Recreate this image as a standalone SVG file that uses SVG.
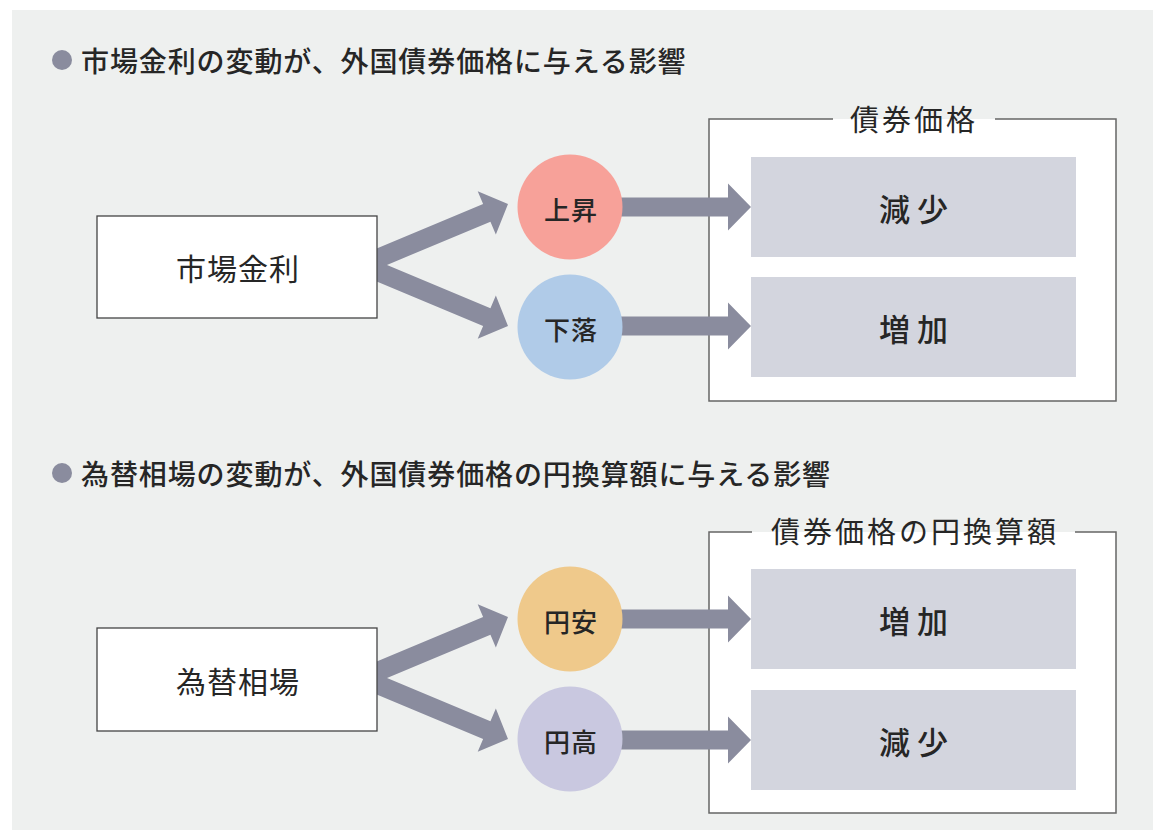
<svg xmlns="http://www.w3.org/2000/svg" width="1153" height="830" viewBox="0 0 1153 830">
<style>
.t{font-family:"Noto Sans CJK JP","Noto Sans CJK SC",sans-serif;fill:#262626;dominant-baseline:central;text-anchor:middle}
.title{font-size:28px;font-weight:500;text-anchor:start;letter-spacing:0.9px}
.src{fill:#fff;stroke:#444;stroke-width:1.3}
.frame{fill:none;stroke:#666;stroke-width:1.5}
.inner{fill:#d3d5de}
.arr{fill:#8a8c9e}
.lbl{font-size:30px;letter-spacing:1px}
.cl{font-size:26px;font-weight:500;letter-spacing:1px}
.il{font-size:31px;font-weight:500;letter-spacing:7px}
.ft{font-size:29px;letter-spacing:3px}
</style>
<defs>
<path id="arrow" d="M-150,-9.5 H-23 V-23.5 L0,0 L-23,23.5 V9.5 H-150 Z"/>
</defs>
<rect x="12" y="10" width="1141" height="820" fill="#eef0ef"/>

<g id="heading1">
<circle cx="62" cy="60" r="10" fill="#8a8c9e"/>
<text class="t title" x="81" y="60">市場金利の変動が、外国債券価格に与える影響</text>
</g>
<g id="heading2">
<circle cx="62" cy="473" r="10" fill="#8a8c9e"/>
<text class="t title" x="81" y="473">為替相場の変動が、外国債券価格の円換算額に与える影響</text>
</g>

<g id="frame1">
<rect x="709" y="119" width="407" height="282" fill="#fff"/>
<path class="frame" d="M833,119 H709 V401 H1116 V119 H995"/>
<text class="t ft" x="914" y="118">債券価格</text>
</g>
<g id="frame2">
<rect x="709" y="532" width="407" height="281" fill="#fff"/>
<path class="frame" d="M752,532 H709 V813 H1116 V532 H1075"/>
<text class="t ft" x="915" y="530">債券価格の円換算額</text>
</g>

<g id="connectors" class="arr">
<use href="#arrow" transform="translate(508,204) rotate(-22.7)"/>
<use href="#arrow" transform="translate(508,326) rotate(22.7)"/>
<use href="#arrow" transform="translate(751,207)"/>
<use href="#arrow" transform="translate(751,326)"/>
<use href="#arrow" transform="translate(508,617) rotate(-22.7)"/>
<use href="#arrow" transform="translate(508,739) rotate(22.7)"/>
<use href="#arrow" transform="translate(751,619)"/>
<use href="#arrow" transform="translate(751,740)"/>
</g>

<g id="node-kinri">
<rect class="src" x="97" y="216" width="280" height="102"/>
<text class="t lbl" x="238" y="267">市場金利</text>
</g>
<g id="node-joushou">
<circle cx="570" cy="207" r="52.5" fill="#f7a199"/>
<text class="t cl" x="571" y="208">上昇</text>
</g>
<g id="node-geraku">
<circle cx="570" cy="327" r="52.5" fill="#b0cbe8"/>
<text class="t cl" x="571" y="328">下落</text>
</g>
<g id="node-genshou1">
<rect class="inner" x="751" y="157" width="325" height="100"/>
<text class="t il" x="917" y="207">減少</text>
</g>
<g id="node-zouka1">
<rect class="inner" x="751" y="277" width="325" height="100"/>
<text class="t il" x="917" y="327">増加</text>
</g>

<g id="node-kawase">
<rect class="src" x="97" y="628" width="280" height="103"/>
<text class="t lbl" x="238" y="680">為替相場</text>
</g>
<g id="node-enyasu">
<circle cx="570" cy="619" r="52.5" fill="#efc98b"/>
<text class="t cl" x="571" y="620">円安</text>
</g>
<g id="node-endaka">
<circle cx="570" cy="739" r="52.5" fill="#c9c8e0"/>
<text class="t cl" x="571" y="740">円高</text>
</g>
<g id="node-zouka2">
<rect class="inner" x="751" y="569" width="325" height="100"/>
<text class="t il" x="917" y="619">増加</text>
</g>
<g id="node-genshou2">
<rect class="inner" x="751" y="690" width="325" height="100"/>
<text class="t il" x="917" y="740">減少</text>
</g>
</svg>
